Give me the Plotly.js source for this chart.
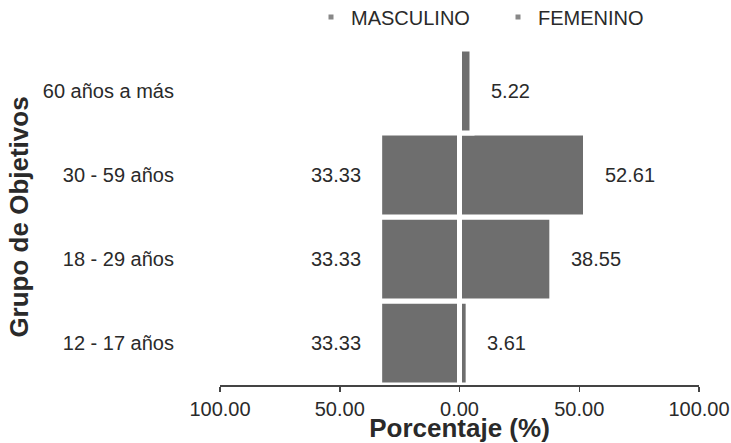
<!DOCTYPE html>
<html>
<head>
<meta charset="utf-8">
<script src="https://cdn.plot.ly/plotly-3.0.1.min.js"></script>
<style>html,body{margin:0;padding:0;background:#fff;}#chart{width:731px;height:443px;}</style>
</head>
<body>
<div id="chart"></div>
<script>
// Data
const categories = ['12 - 17 años', '18 - 29 años', '30 - 59 años', '60 años a más'];
const masculino = [33.33, 33.33, 33.33, null];
const femenino = [3.61, 38.55, 52.61, 5.22];
const seriesNames = ['MASCULINO', 'FEMENINO'];
const xTickVals = [-100, -50, 0, 50, 100];
const xTickText = ['100.00', '50.00', '0.00', '50.00', '100.00'];

const barColor = '#6e6e6e';
const textColor = '#2a2a2a';
const font = {family: 'Liberation Sans, Arial, sans-serif', size: 20, color: textColor};
const titleFont = {family: 'Liberation Sans, Arial, sans-serif', size: 26, color: textColor, weight: 'bold'};

const traces = [
  {
    type: 'bar', orientation: 'h', y: categories,
    x: masculino.map(v => v == null ? null : -v),
    marker: {color: barColor, line: {color: '#ffffff', width: 5}},
    showlegend: false, hoverinfo: 'skip'
  },
  {
    type: 'bar', orientation: 'h', y: categories, x: femenino,
    marker: {color: barColor, line: {color: '#ffffff', width: 5}},
    showlegend: false, hoverinfo: 'skip'
  },
  // legend entries
  {type: 'scatter', mode: 'markers', x: [null], y: [null], name: seriesNames[0],
   marker: {symbol: 'square', size: 5, color: '#888'}},
  {type: 'scatter', mode: 'markers', x: [null], y: [null], name: seriesNames[1],
   marker: {symbol: 'square', size: 5, color: '#888'}}
];

const annotations = [];
categories.forEach((c, i) => {
  if (masculino[i] != null) {
    annotations.push({x: -masculino[i], y: c, xref: 'x', yref: 'y', text: masculino[i].toFixed(2),
      showarrow: false, xanchor: 'right', yanchor: 'middle', xshift: -17, font: font});
  }
  if (femenino[i] != null) {
    annotations.push({x: femenino[i], y: c, xref: 'x', yref: 'y', text: femenino[i].toFixed(2),
      showarrow: false, xanchor: 'left', yanchor: 'middle', xshift: 17, font: font});
  }
});

const layout = {
  width: 731, height: 443,
  margin: {l: 220, r: 32, t: 49, b: 58, autoexpand: false},
  paper_bgcolor: '#fff', plot_bgcolor: '#fff',
  font: font,
  barmode: 'overlay',
  bargap: 0,
  showlegend: true,
  legend: {
    orientation: 'h', x: 0.19, xanchor: 'left', y: 1.095, yanchor: 'middle',
    font: font, itemwidth: 30, entrywidth: 142, bgcolor: 'rgba(0,0,0,0)'
  },
  xaxis: {
    range: [-100, 100], tickvals: xTickVals, ticktext: xTickText,
    showgrid: false, zeroline: false, showline: true, linecolor: '#444', linewidth: 1.5,
    ticks: 'outside', ticklen: 5, tickcolor: '#444', tickwidth: 1.5,
    ticklabelstandoff: 0,
    tickfont: font,
    title: {text: 'Porcentaje (%)', standoff: 3, font: titleFont},
    automargin: false, fixedrange: true
  },
  yaxis: {
    type: 'category', categoryorder: 'array', categoryarray: categories,
    range: [-0.5, 3.5],
    showgrid: false, zeroline: false, showline: false, ticks: '',
    ticklabelstandoff: 45,
    tickfont: font,
    title: {text: 'Grupo de Objetivos', standoff: 6, font: titleFont},
    automargin: false, fixedrange: true
  },
  annotations: annotations
};

Plotly.newPlot('chart', traces, layout, {displayModeBar: false, staticPlot: true});
</script>
</body>
</html>
